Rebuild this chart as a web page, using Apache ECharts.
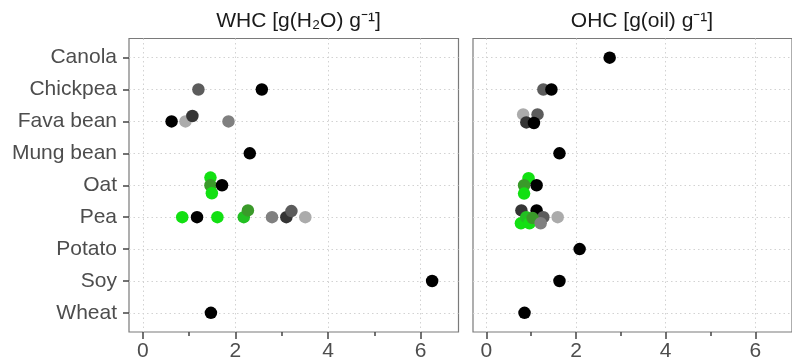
<!DOCTYPE html>
<html><head><meta charset="utf-8">
<script src="https://cdn.jsdelivr.net/npm/echarts@6/dist/echarts.min.js"></script>
<style>html,body{margin:0;padding:0;background:#fff}#c{width:792px;height:362px}</style>
</head><body><div id="c"></div>
<script>
const categories = ['Canola','Chickpea','Fava bean','Mung bean','Oat','Pea','Potato','Soy','Wheat'];
const panelTitles = ['WHC [g(H\u2082O) g\u207B\u00B9]', 'OHC [g(oil) g\u207B\u00B9]'];
const xTicks = [0, 2, 4, 6];
const xMinorTicks = [1, 3, 5];
const palette = {K:'#000000', D:'#353535', M:'#5c5c5c', G:'#808080', L:'#ababab', B:'#12e012', N:'#22c022', V:'#3a9a2a'};

// WHC panel
const whcCategory = ['Chickpea','Chickpea','Fava bean','Fava bean','Fava bean','Fava bean','Mung bean',
  'Oat','Oat','Oat','Oat','Pea','Pea','Pea','Pea','Pea','Pea','Pea','Pea','Pea','Soy','Wheat'];
const whcValue = [1.20,2.57,0.62,0.92,1.07,1.85,2.31,
  1.46,1.46,1.49,1.71,0.85,1.17,1.61,2.18,2.27,2.79,3.10,3.21,3.51,6.25,1.47];
const whcJitter = [0,0,0,0,-0.17,0,0,
  -0.24,0,0.25,0,0,0,0,0,-0.21,0,0,-0.19,0,0,0];
const whcColor = ['M','K','K','L','D','G','K',
  'B','V','B','K','B','K','B','N','V','G','D','M','L','K','K'];

// OHC panel
const ohcCategory = ['Canola','Chickpea','Chickpea','Fava bean','Fava bean','Fava bean','Fava bean','Mung bean',
  'Oat','Oat','Oat','Oat','Pea','Pea','Pea','Pea','Pea','Pea','Pea','Pea','Pea','Potato','Soy','Wheat'];
const ohcValue = [2.75,1.27,1.45,0.82,1.14,0.89,1.06,1.63,
  0.94,0.84,0.84,1.12,0.78,1.12,1.27,1.59,0.77,0.89,0.96,1.03,1.21,2.08,1.63,0.85];
const ohcJitter = [0,0,0,-0.22,-0.22,0.03,0.05,0,
  -0.22,0,0.26,0,-0.21,-0.21,0,0,0.19,0,0.19,0.03,0.19,0,0,0];
const ohcColor = ['K','M','K','L','M','D','K','K',
  'B','V','B','K','D','K','M','L','B','N','B','V','G','K','K','K'];

const yIdx = categories.map((_, i) => i);
const fontFam = '"Liberation Sans", Arial, sans-serif';
const gridLine = {show:true, lineStyle:{color:'#d2d2d2', type:[1.5,3], width:1}};

function build(cat, val, jit, col) {
  return val.map((v, i) => ({
    value: [v, categories.indexOf(cat[i]) + jit[i]],
    itemStyle: {color: palette[col[i]], opacity: 1}
  }));
}

const grids = [
  {left:129, right:333.5, top:38.5, bottom:29, show:true, borderColor:'#7a7a7a', borderWidth:1.2, backgroundColor:'#fff'},
  {left:473, right:-10, top:38.5, bottom:29, show:true, borderColor:'#7a7a7a', borderWidth:1.2, backgroundColor:'#fff'}
];

const xAxes = [], yAxes = [];
[0,1].forEach(g => {
  xAxes.push({type:'value', gridIndex:g, min:-0.3, max:6.82, position:'bottom',
    axisLine:{show:false, onZero:false},
    axisTick:{show:true, customValues:xTicks, length:7, lineStyle:{color:'#444', width:1.5}},
    axisLabel:{show:true, customValues:xTicks, color:'#4d4d4d', fontSize:21, fontFamily:fontFam, margin:9},
    splitLine:gridLine});
  xAxes.push({type:'value', gridIndex:g, min:-0.3, max:6.82, position:'bottom', offset:0,
    axisLine:{show:false, onZero:false},
    axisTick:{show:true, customValues:xMinorTicks, length:4, lineStyle:{color:'#444', width:1.5}},
    axisLabel:{show:false}, splitLine:{show:false}});
  yAxes.push({type:'value', gridIndex:g, min:-0.6, max:8.6, inverse:true, position:'left',
    axisLine:{show:false, onZero:false},
    axisTick:{show:g===0, customValues:yIdx, length:6, lineStyle:{color:'#444', width:1.5}},
    axisLabel:{show:g===0, customValues:yIdx, color:'#4d4d4d', fontSize:21, fontFamily:fontFam, margin:12,
      formatter: v => categories[Math.round(v)]},
    splitLine:gridLine});
});

const chart = echarts.init(document.getElementById('c'), null, {renderer:'canvas'});
chart.setOption({
  animation:false,
  backgroundColor:'#fff',
  title: [
    {text:panelTitles[0], left:293.5, top:6, textAlign:'center', textStyle:{fontSize:21, fontWeight:'normal', color:'#1a1a1a', fontFamily:fontFam}},
    {text:panelTitles[1], left:637, top:6, textAlign:'center', textStyle:{fontSize:21, fontWeight:'normal', color:'#1a1a1a', fontFamily:fontFam}}
  ],
  grid: grids,
  xAxis: xAxes,
  yAxis: yAxes,
  series: [
    {type:'scatter', xAxisIndex:0, yAxisIndex:0, symbolSize:12.5, itemStyle:{opacity:1}, data: build(whcCategory, whcValue, whcJitter, whcColor)},
    {type:'scatter', xAxisIndex:2, yAxisIndex:1, symbolSize:12.5, itemStyle:{opacity:1}, data: build(ohcCategory, ohcValue, ohcJitter, ohcColor)}
  ]
});
</script></body></html>
